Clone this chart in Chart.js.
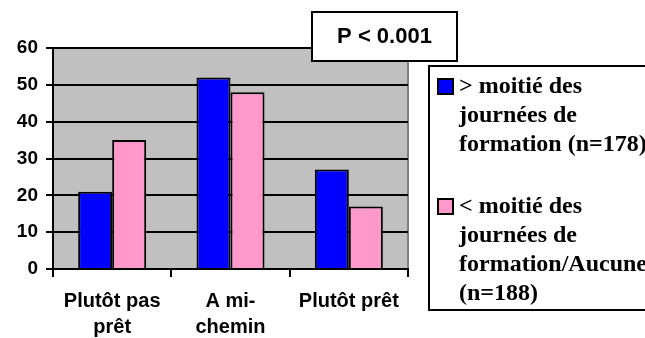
<!DOCTYPE html>
<html>
<head>
<meta charset="utf-8">
<style>
  html, body { margin: 0; padding: 0; background: #ffffff; }
  canvas { display: block; }
</style>
<script src="https://cdn.jsdelivr.net/npm/chart.js@4/dist/chart.umd.min.js"></script>
</head>
<body>
<canvas id="chart" width="645" height="338"></canvas>
<script>
// Categories (multi-line labels) and series values
const categories = [['Plutôt pas', 'prêt'], ['A mi-', 'chemin'], 'Plutôt prêt'];
const seriesMoreHalf = [21, 52, 27];
const seriesLessHalf = [35, 48, 17];
const legendMoreHalf = ['> moitié des', 'journées de', 'formation (n=178)'];
const legendLessHalf = ['< moitié des', 'journées de', 'formation/Aucune', '(n=188)'];
const yTicks = [0, 10, 20, 30, 40, 50, 60];
const pValueText = 'P < 0.001';

const SANS = '"Liberation Sans", Arial, sans-serif';
const SERIF = '"Liberation Serif", "Times New Roman", serif';

// Grey plot background and the thin grey right frame
const plotBackground = {
  id: 'plotBackground',
  beforeDraw(chart) {
    const { ctx, chartArea: a } = chart;
    ctx.save();
    ctx.fillStyle = '#c0c0c0';
    ctx.fillRect(a.left, a.top, a.right - a.left, a.bottom - a.top);
    ctx.strokeStyle = '#808080';
    ctx.lineWidth = 2;
    ctx.beginPath();
    ctx.moveTo(a.right, a.top);
    ctx.lineTo(a.right, a.bottom);
    ctx.stroke();
    ctx.restore();
  }
};

// Boxed legend on the right and the p-value box above the plot
const annotations = {
  id: 'annotations',
  afterDraw(chart) {
    const ctx = chart.ctx;
    ctx.save();

    // p-value box
    ctx.fillStyle = '#ffffff';
    ctx.fillRect(312, 12, 145, 49);
    ctx.strokeStyle = '#000000';
    ctx.lineWidth = 2;
    ctx.strokeRect(312, 12, 145, 49);
    ctx.fillStyle = '#000000';
    ctx.font = 'bold 22px ' + SANS;
    ctx.textAlign = 'center';
    ctx.textBaseline = 'middle';
    ctx.fillText(pValueText, 384.5, 37);

    // legend frame
    ctx.fillStyle = '#ffffff';
    ctx.fillRect(429, 66, 240, 244);
    ctx.strokeStyle = '#000000';
    ctx.lineWidth = 2;
    ctx.strokeRect(429, 66, 240, 244);

    const lineH = 29;
    const entries = chart.data.datasets.map(ds => ({ color: ds.backgroundColor, lines: ds.legendLines }));
    let y = 87;
    ctx.font = 'bold 24px ' + SERIF;
    ctx.textAlign = 'left';
    ctx.textBaseline = 'middle';
    entries.forEach((e) => {
      ctx.fillStyle = e.color;
      ctx.fillRect(438, y - 8, 15, 15);
      ctx.strokeStyle = '#000000';
      ctx.lineWidth = 2;
      ctx.strokeRect(438, y - 8, 15, 15);
      ctx.fillStyle = '#000000';
      e.lines.forEach((t, j) => ctx.fillText(t, 459, y + j * lineH));
      y += (e.lines.length + 1) * lineH + 4;
    });
    ctx.restore();
  }
};

new Chart(document.getElementById('chart'), {
  type: 'bar',
  data: {
    labels: categories,
    datasets: [
      {
        label: legendMoreHalf.join(' '),
        legendLines: legendMoreHalf,
        data: seriesMoreHalf,
        backgroundColor: '#0000ff',
        borderColor: '#000000',
        borderWidth: 2,
        categoryPercentage: 0.575,
        barPercentage: 1
      },
      {
        label: legendLessHalf.join(' '),
        legendLines: legendLessHalf,
        data: seriesLessHalf,
        backgroundColor: '#ff99cc',
        borderColor: '#000000',
        borderWidth: 2,
        categoryPercentage: 0.575,
        barPercentage: 1
      }
    ]
  },
  options: {
    responsive: false,
    devicePixelRatio: 1,
    animation: false,
    layout: { padding: { top: 48, right: 237, left: 0, bottom: 0 } },
    plugins: {
      legend: { display: false },
      tooltip: { enabled: false }
    },
    scales: {
      x: {
        afterFit(scale) { scale.height = 69; },
        grid: {
          display: true,
          drawOnChartArea: false,
          drawTicks: true,
          tickLength: 8,
          offset: true,
          color: '#000000',
          lineWidth: 2
        },
        border: { display: true, color: '#000000', width: 2 },
        ticks: {
          color: '#000000',
          font: { family: SANS, size: 20, weight: 'bold', lineHeight: 1.3 },
          padding: 11,
          maxRotation: 0,
          autoSkip: false
        }
      },
      y: {
        min: 0,
        max: 60,
        afterFit(scale) { scale.width = 53; },
        afterBuildTicks(scale) { scale.ticks = yTicks.map(v => ({ value: v })); },
        grid: {
          color: '#000000',
          lineWidth: 2,
          drawTicks: true,
          tickLength: 7
        },
        border: { display: true, color: '#000000', width: 2 },
        ticks: {
          color: '#000000',
          font: { family: SANS, size: 19, weight: 'bold' },
          padding: 8
        }
      }
    }
  },
  plugins: [plotBackground, annotations]
});
</script>
</body>
</html>
